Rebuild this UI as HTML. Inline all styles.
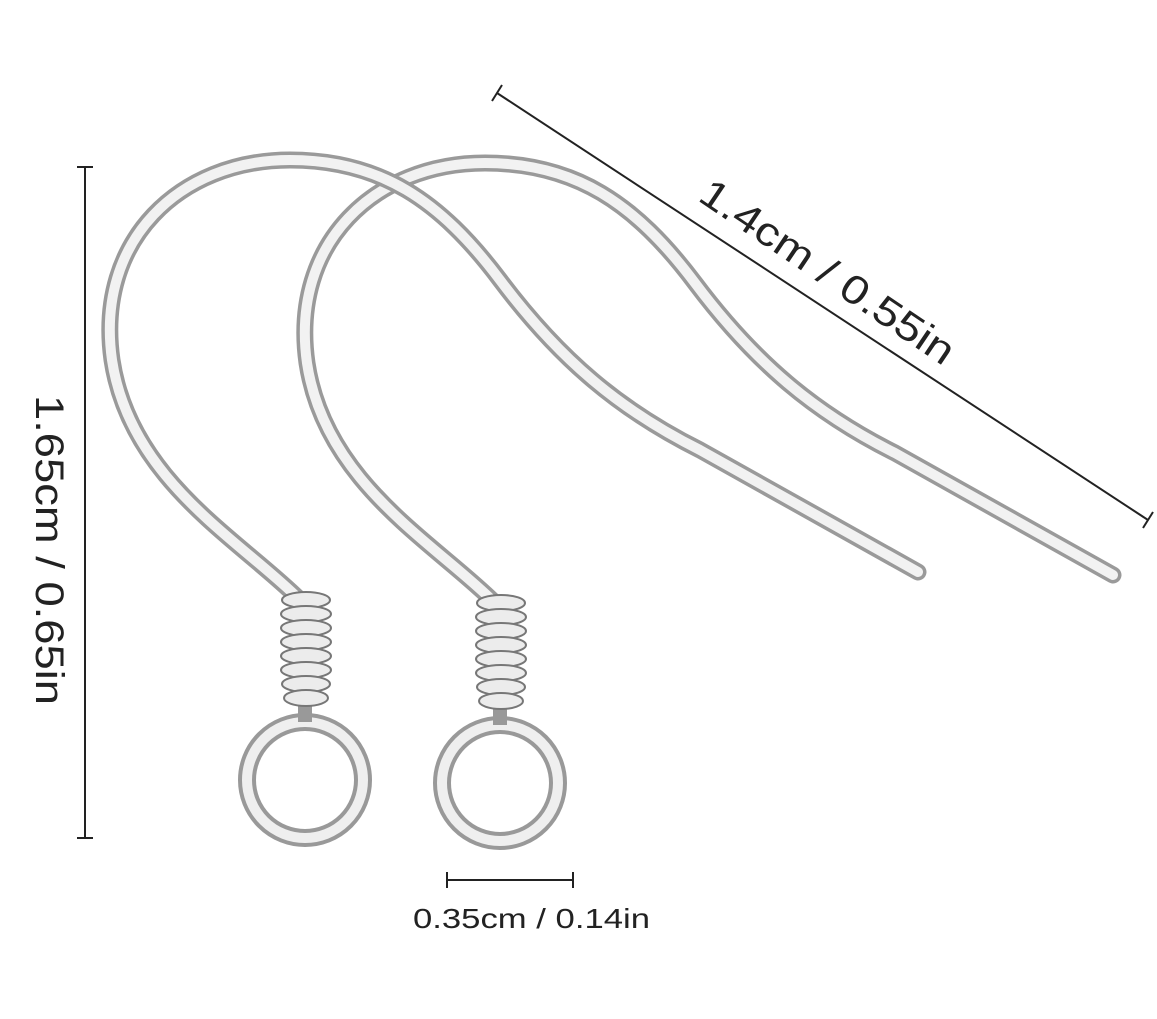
<!DOCTYPE html>
<html><head><meta charset="utf-8"><style>
html,body{margin:0;padding:0;background:#fff;}
svg{display:block;}
text{font-family:"Liberation Sans",sans-serif;fill:#222;}
</style></head><body>
<svg width="1157" height="1019" viewBox="0 0 1157 1019" xmlns="http://www.w3.org/2000/svg">
<rect width="1157" height="1019" fill="#fff"/>
<g stroke="#222" stroke-width="2" fill="none">
<line x1="85" y1="167" x2="85" y2="838"/>
<line x1="77" y1="167" x2="93" y2="167"/>
<line x1="77" y1="838" x2="93" y2="838"/>
<line x1="497" y1="93" x2="1148" y2="520"/>
<line x1="492" y1="101" x2="502" y2="85"/>
<line x1="1143" y1="528" x2="1153" y2="512"/>
<line x1="447" y1="880" x2="573" y2="880"/>
<line x1="447" y1="872" x2="447" y2="888"/>
<line x1="573" y1="872" x2="573" y2="888"/>
</g>
<text x="-155" y="0" font-size="40" textLength="310" lengthAdjust="spacingAndGlyphs" transform="translate(36,550) rotate(90)">1.65cm / 0.65in</text>
<text x="-149" y="0" font-size="40" textLength="298" lengthAdjust="spacingAndGlyphs" transform="translate(820,283) rotate(34)">1.4cm / 0.55in</text>
<text x="413" y="928" font-size="28" textLength="237" lengthAdjust="spacingAndGlyphs">0.35cm / 0.14in</text>

<defs>
<g id="hook">
<path d="M300 600 C240 540,130 480,112 360 C95 240,180 160,290 160 C380 160,440 200,500 280 C560 360,620 410,700 450 L918 572" fill="none" stroke="#9a9a9a" stroke-width="17" stroke-linecap="round"/>
<path d="M300 600 C240 540,130 480,112 360 C95 240,180 160,290 160 C380 160,440 200,500 280 C560 360,620 410,700 450 L918 572" fill="none" stroke="#f2f2f2" stroke-width="10" stroke-linecap="round"/>
<circle cx="305" cy="780" r="58" fill="none" stroke="#999" stroke-width="18"/>
<circle cx="305" cy="780" r="58" fill="none" stroke="#efefef" stroke-width="10"/>
<path d="M305 722 L305 700" stroke="#999" stroke-width="14"/>
<g fill="#ececec" stroke="#777" stroke-width="2">
<ellipse cx="306" cy="600" rx="24" ry="8"/>
<ellipse cx="306" cy="614" rx="25" ry="8"/>
<ellipse cx="306" cy="628" rx="25" ry="8"/>
<ellipse cx="306" cy="642" rx="25" ry="8"/>
<ellipse cx="306" cy="656" rx="25" ry="8"/>
<ellipse cx="306" cy="670" rx="25" ry="8"/>
<ellipse cx="306" cy="684" rx="24" ry="8"/>
<ellipse cx="306" cy="698" rx="22" ry="8"/>
</g>
</g>
</defs>
<use href="#hook" transform="translate(195,3)"/>
<use href="#hook"/>
</svg>
</body></html>
